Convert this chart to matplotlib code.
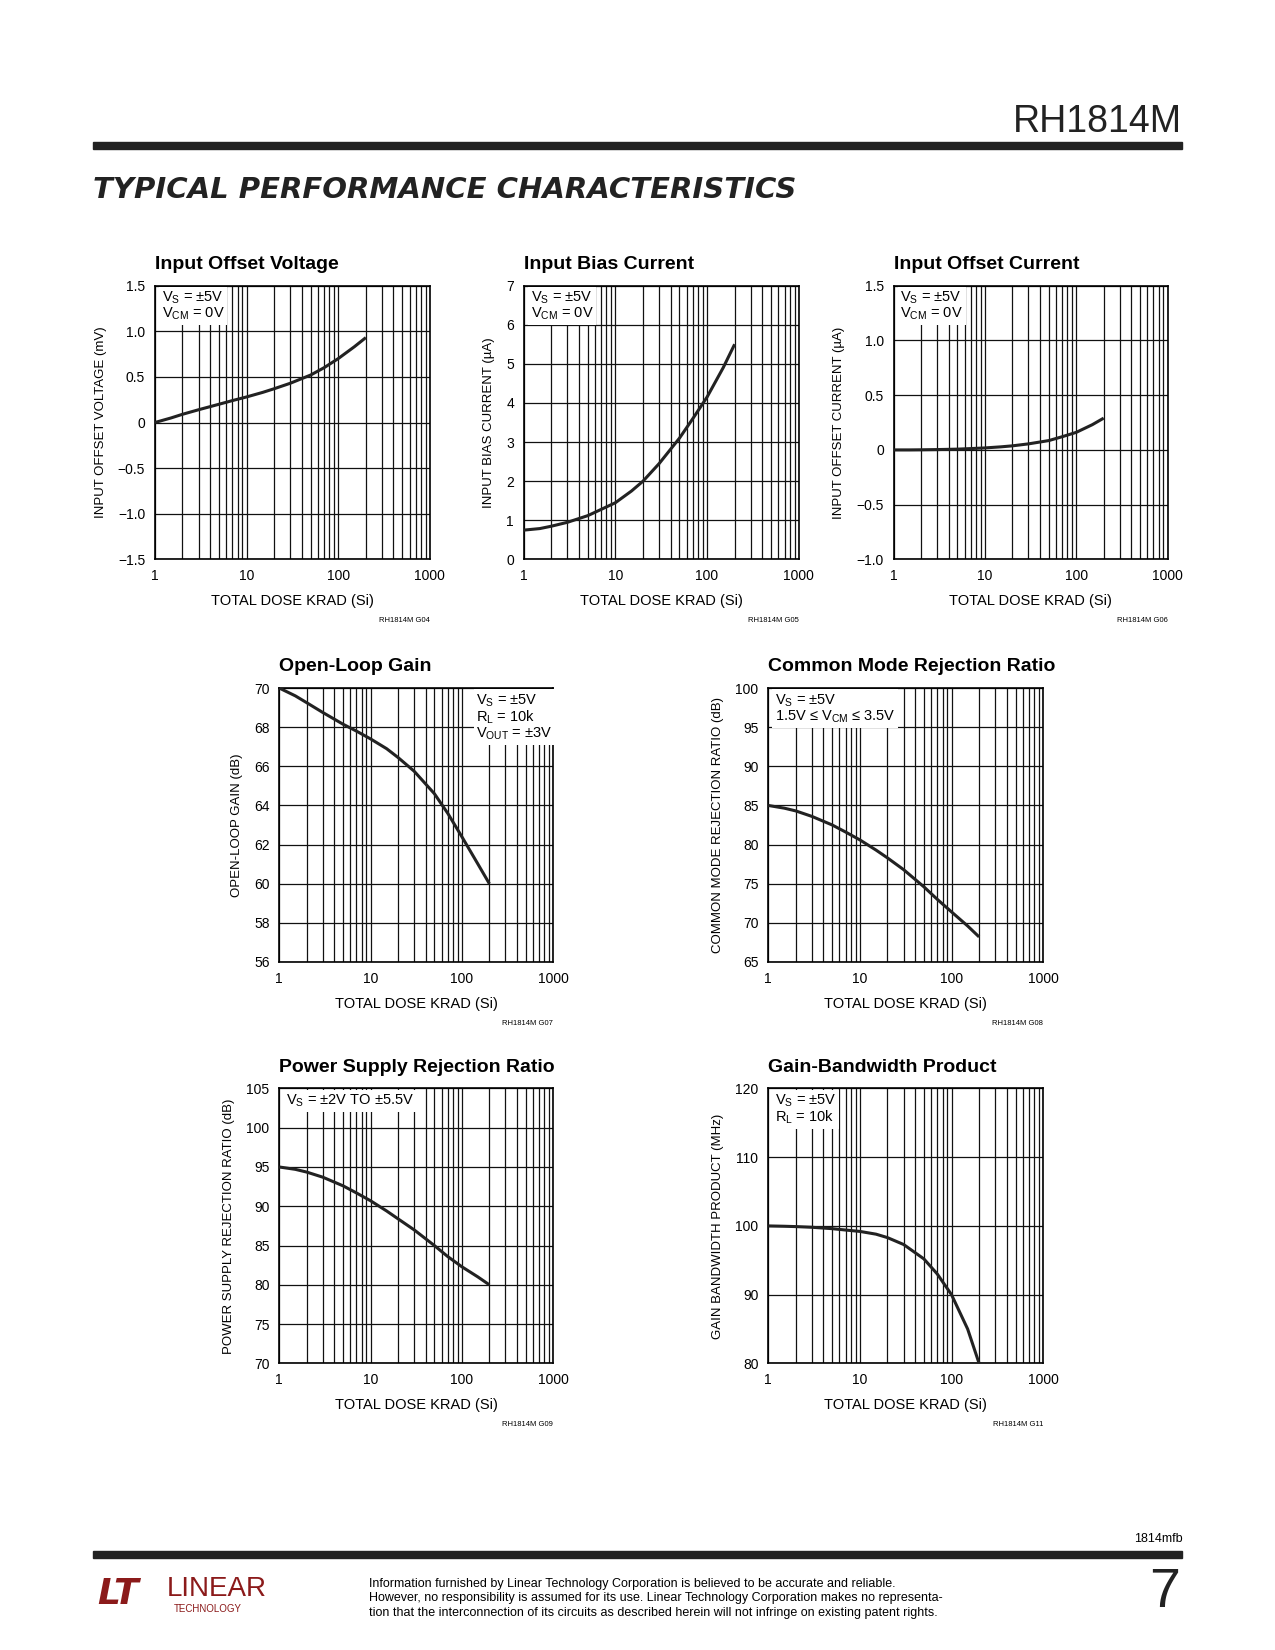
import matplotlib
matplotlib.use("Agg")
import matplotlib.pyplot as plt
from matplotlib.ticker import FixedLocator, NullFormatter, FixedFormatter

plt.rcParams['font.family'] = ['Liberation Sans', 'DejaVu Sans']
plt.rcParams['mathtext.fontset'] = 'custom'
plt.rcParams['mathtext.rm'] = 'Liberation Sans'
plt.rcParams['mathtext.it'] = 'Liberation Sans'
plt.rcParams['axes.unicode_minus'] = True

dose = [1, 1.5, 2, 3, 5, 7, 10, 15, 20, 30, 50, 70, 100, 150, 200]
vos = [0, 0.05, 0.09, 0.14, 0.2, 0.24, 0.28, 0.33, 0.37, 0.43, 0.52, 0.6, 0.7, 0.83, 0.93]
ib = [0.75, 0.79, 0.85, 0.95, 1.12, 1.28, 1.45, 1.75, 2.0, 2.45, 3.1, 3.6, 4.15, 4.9, 5.5]
ios = [0, 0, 0.001, 0.003, 0.007, 0.012, 0.018, 0.028, 0.037, 0.055, 0.085, 0.12, 0.16, 0.23, 0.29]
aol = [70, 69.6, 69.25, 68.75, 68.15, 67.8, 67.4, 66.9, 66.45, 65.75, 64.6, 63.6, 62.4, 61.0, 60.0]
cmrr = [85, 84.65, 84.3, 83.6, 82.5, 81.6, 80.6, 79.3, 78.3, 76.8, 74.6, 73.0, 71.4, 69.6, 68.2]
psrr = [95, 94.7, 94.35, 93.7, 92.6, 91.7, 90.7, 89.4, 88.4, 87.0, 85.0, 83.6, 82.3, 81.0, 80.0]
gbw = [100, 99.95, 99.9, 99.8, 99.6, 99.4, 99.2, 98.8, 98.3, 97.3, 95.2, 93.0, 90.0, 85.0, 80.0]

W, H = 1210.0, 1566.0
fig = plt.figure(figsize=(12.75, 16.5), dpi=100)

def mk(x0, x1, y0, y1, xs, ys, yticks, ylabels, ylab, title, note, gcode, noteright=False):
    ax = fig.add_axes([x0/W, 1-y1/H, (x1-x0)/W, (y1-y0)/H])
    ax.plot(xs, ys, color='#222', lw=2.2, zorder=5, solid_capstyle='butt', solid_joinstyle='round')
    ax.set_xscale('log')
    ax.set_xlim(1, 1000)
    ax.set_ylim(yticks[0], yticks[-1])
    ax.xaxis.set_major_locator(FixedLocator([1, 10, 100, 1000]))
    ax.xaxis.set_major_formatter(FixedFormatter(['1', '10', '100', '1000']))
    minors = [m*10**e for e in range(3) for m in range(2, 10)]
    ax.xaxis.set_minor_locator(FixedLocator(minors))
    ax.xaxis.set_minor_formatter(NullFormatter())
    ax.set_yticks(yticks)
    ax.set_yticklabels(ylabels)
    ax.grid(True, which='both', color='#111', lw=0.9)
    ax.tick_params(which='both', length=0, labelsize=10, pad=7)
    for s in ax.spines.values():
        s.set_linewidth(1.2)
    ax.set_xlabel('TOTAL DOSE KRAD (Si)', fontsize=10.5, labelpad=8)
    ax.set_ylabel(ylab, fontsize=9.5, labelpad=8)
    ax.set_title(title, fontsize=14, fontweight='bold', loc='left', pad=12)
    xt = 0.72 if noteright else 0.025
    ax.text(xt, 0.985, note, transform=ax.transAxes, ha='left', va='top', fontsize=10.5,
            bbox=dict(facecolor='white', edgecolor='none', pad=2), zorder=6, linespacing=1.0)
    ax.text(1.0, -0.21, gcode, transform=ax.transAxes, ha='right', va='top', fontsize=5.5)
    return ax

fv = lambda x: ('0' if x == 0 else ('%.1f' % x).replace('-', '\u2212'))
def ilab(v):
    return [str(i) for i in v]

mk(147, 408, 271, 531, dose, vos, [-1.5, -1, -0.5, 0, 0.5, 1, 1.5],
   [fv(x) for x in [-1.5, -1, -0.5, 0, 0.5, 1, 1.5]], 'INPUT OFFSET VOLTAGE (mV)',
   'Input Offset Voltage', '$\\mathrm{V_S}$ = ±5V\n$\\mathrm{V_{CM}}$ = 0V', 'RH1814M G04')
mk(497, 758, 271, 531, dose, ib, list(range(8)), ilab(range(8)),
   'INPUT BIAS CURRENT (µA)', 'Input Bias Current', '$\\mathrm{V_S}$ = ±5V\n$\\mathrm{V_{CM}}$ = 0V', 'RH1814M G05')
mk(848, 1108, 271, 531, dose, ios, [-1, -0.5, 0, 0.5, 1, 1.5],
   [fv(x) for x in [-1, -0.5, 0, 0.5, 1, 1.5]], 'INPUT OFFSET CURRENT (µA)',
   'Input Offset Current', '$\\mathrm{V_S}$ = ±5V\n$\\mathrm{V_{CM}}$ = 0V', 'RH1814M G06')
mk(265, 525, 653, 913, dose, aol, list(range(56, 71, 2)), ilab(range(56, 71, 2)),
   'OPEN-LOOP GAIN (dB)', 'Open-Loop Gain',
   '$\\mathrm{V_S}$ = ±5V\n$\\mathrm{R_L}$ = 10k\n$\\mathrm{V_{OUT}}$ = ±3V',
   'RH1814M G07', noteright=True)
mk(729, 990, 653, 913, dose, cmrr, list(range(65, 101, 5)), ilab(range(65, 101, 5)),
   'COMMON MODE REJECTION RATIO (dB)', 'Common Mode Rejection Ratio',
   '$\\mathrm{V_S}$ = ±5V\n1.5V ≤ $\\mathrm{V_{CM}}$ ≤ 3.5V', 'RH1814M G08')
mk(265, 525, 1033, 1294, dose, psrr, list(range(70, 106, 5)), ilab(range(70, 106, 5)),
   'POWER SUPPLY REJECTION RATIO (dB)', 'Power Supply Rejection Ratio',
   '$\\mathrm{V_S}$ = ±2V TO ±5.5V', 'RH1814M G09')
mk(729, 990, 1033, 1294, dose, gbw, list(range(80, 121, 10)), ilab(range(80, 121, 10)),
   'GAIN BANDWIDTH PRODUCT (MHz)', 'Gain-Bandwidth Product',
   '$\\mathrm{V_S}$ = ±5V\n$\\mathrm{R_L}$ = 10k', 'RH1814M G11')

# header
fig.text(1122/W, 1-116/H, 'RH1814M', ha='right', va='center', fontsize=27, color='#222')
fig.add_artist(plt.Rectangle((88/W, 1-141/H), (1122-88)/W, 6/H, color='#222', transform=fig.transFigure))
fig.text(88/W, 1-180/H, 'TYPICAL PERFORMANCE CHARACTERISTICS', ha='left', va='center',
         fontsize=21, fontweight='heavy', style='italic', color='#222', family=['DejaVu Sans'])
# footer
fig.text(1122/W, 1-1461/H, '1814mfb', ha='right', va='center', fontsize=9)
fig.add_artist(plt.Rectangle((88/W, 1-1479/H), (1122-88)/W, 7/H, color='#222', transform=fig.transFigure))
fig.text(350/W, 1-1517/H,
         'Information furnished by Linear Technology Corporation is believed to be accurate and reliable.\n'
         'However, no responsibility is assumed for its use. Linear Technology Corporation makes no representa-\n'
         'tion that the interconnection of its circuits as described herein will not infringe on existing patent rights.',
         ha='left', va='center', fontsize=9, linespacing=1.25)
fig.text(1120/W, 1-1512/H, '7', ha='right', va='center', fontsize=40, color='#222')
fig.text(92/W, 1-1513/H, 'LT', ha='left', va='center', fontsize=26, fontweight='bold', style='italic',
         color='#8b1a1a', family=['DejaVu Sans'])
fig.text(158/W, 1-1508/H, 'LINEAR', ha='left', va='center', fontsize=20, color='#8b1a1a')
fig.text(165/W, 1-1527/H, 'TECHNOLOGY', ha='left', va='center', fontsize=7, color='#8b1a1a')

fig.savefig('out.png', dpi=100, facecolor='white')
